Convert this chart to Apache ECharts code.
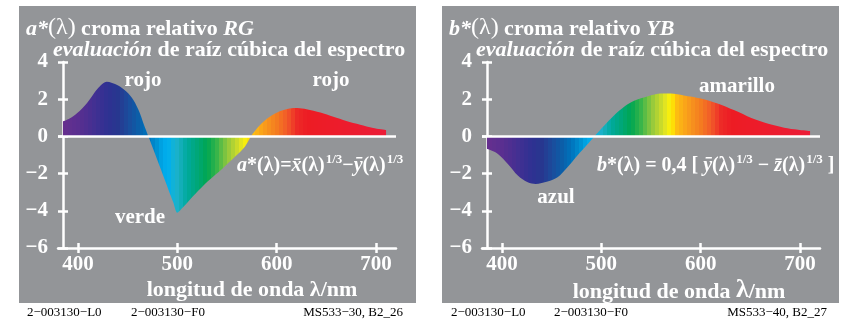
<!DOCTYPE html>
<html><head><meta charset="utf-8">
<script src="https://cdn.jsdelivr.net/npm/echarts@6/dist/echarts.min.js"></script>
<style>html,body{margin:0;padding:0;background:#fff}#c{width:843px;height:322px}</style>
</head><body><div id="c"></div>
<script>
// ---- data ----
const wavelengthA = [385,393,402,410,420,429,440,449,456,462,466,471,477,484,491,496,500,506,518,531,545,558,568,574,583,593,603,613,621,630,644,657,670,684,697,710];
const aStar       = [0.8,1.0,1.38,1.85,2.58,2.94,2.75,2.4,1.95,1.3,0.7,0.0,-0.85,-1.85,-2.85,-3.55,-4.1,-3.8,-3.1,-2.4,-1.75,-1.1,-0.55,0.0,0.6,1.05,1.35,1.5,1.53,1.46,1.28,1.05,0.83,0.63,0.45,0.34];
const wavelengthB = [385,396,406,416,426,434,446,456,466,476,485,493,503,513,523,533,547,560,570,583,600,617,634,651,668,684,698,710];
const bStar       = [-0.67,-0.94,-1.48,-2.1,-2.47,-2.56,-2.43,-2.2,-1.66,-1.03,-0.49,0.0,0.59,1.14,1.59,1.91,2.16,2.3,2.3,2.2,2.04,1.77,1.4,0.99,0.68,0.47,0.36,0.29];
const xTicks = [400,500,600,700];
const yMin = -6, yMax = 4, yStep = 2;
const xMin = 380, xMax = 720;

// ---- spectral colour table (style) ----
const spectrum = [
  [380,'#6b2d8e'],[390,'#62308f'],[400,'#5a2f90'],[410,'#4c2f91'],[420,'#3d3092'],[430,'#2e3192'],
  [440,'#27378f'],[450,'#1c4b9c'],[460,'#0c5ea8'],[470,'#0072bb'],[480,'#0092d2'],[486,'#00a9e8'],
  [491,'#00aeef'],[496,'#10b2d8'],[501,'#1db1c6'],[510,'#00a99d'],[520,'#00a779'],[530,'#00a651'],
  [540,'#39b54a'],[550,'#8dc63f'],[560,'#c9da2b'],[566,'#ede91d'],[570,'#fff200'],[575,'#fdc010'],
  [581,'#fbae17'],[590,'#f7941d'],[600,'#f47b20'],[610,'#f15a29'],[620,'#ed2b27'],[630,'#ed1c24'],
  [700,'#ec1c35'],[720,'#ec1c3a']
];
function hex2rgb(h){return [parseInt(h.substr(1,2),16),parseInt(h.substr(3,2),16),parseInt(h.substr(5,2),16)];}
function spectrumColor(l){
  if(l<=spectrum[0][0]) return spectrum[0][1];
  for(let i=1;i<spectrum.length;i++){
    if(l<=spectrum[i][0]){
      const [l0,c0]=spectrum[i-1],[l1,c1]=spectrum[i];
      const t=(l-l0)/(l1-l0), a=hex2rgb(c0), b=hex2rgb(c1);
      return 'rgb('+a.map((v,k)=>Math.round(v+(b[k]-v)*t)).join(',')+')';
    }
  }
  return spectrum[spectrum.length-1][1];
}
function areaGradient(lams){
  const l0=lams[0], l1=lams[lams.length-1], span=l1-l0, stops=[];
  for(let c=380;c<=720;c+=4){
    const a=Math.max(c-2,l0), b=Math.min(c+2,l1);
    if(b<=a) continue;
    const col=spectrumColor(c);
    stops.push({offset:(a-l0)/span,color:col},{offset:(b-l0)/span,color:col});
  }
  return {type:'linear',x:0,y:0,x2:1,y2:0,colorStops:stops};
}

const SERIF = '"Liberation Serif","Times New Roman",serif';
const W = '#ffffff';
const axisLine = {color:W,width:2.5};

function xAxes(g){
  const base = {gridIndex:g,type:'value',min:xMin,max:xMax,position:'bottom',splitLine:{show:false}};
  return [
    Object.assign({},base,{
      axisLine:{show:true,onZero:false,lineStyle:axisLine},
      axisTick:{show:true,length:5,customValues:xTicks,lineStyle:axisLine},
      axisLabel:{customValues:xTicks,color:W,fontFamily:SERIF,fontWeight:'bold',fontSize:21,margin:6}
    }),
    Object.assign({},base,{
      axisLine:{show:false,onZero:false},
      axisTick:{show:true,inside:true,length:5,customValues:xTicks,lineStyle:axisLine},
      axisLabel:{show:false}
    })
  ];
}
function yAxes(g){
  const base = {gridIndex:g,type:'value',min:yMin,max:yMax,interval:yStep,position:'left',offset:-5,splitLine:{show:false}};
  return [
    Object.assign({},base,{
      axisLine:{show:true,onZero:false,lineStyle:axisLine},
      axisTick:{show:true,length:5,lineStyle:axisLine},
      axisLabel:{color:W,fontFamily:SERIF,fontWeight:'bold',fontSize:21,margin:15,
        formatter:v=>String(v).replace('-','\u2212')}
    }),
    Object.assign({},base,{
      axisLine:{show:false,onZero:false},
      axisTick:{show:true,inside:true,length:5,lineStyle:axisLine},
      axisLabel:{show:false}
    })
  ];
}
function curve(g,lams,vals){
  return {
    type:'line',xAxisIndex:g*2,yAxisIndex:g*2,
    data:lams.map((l,i)=>[l,vals[i]]),
    symbol:'none',smooth:0.3,
    lineStyle:{width:0},
    areaStyle:{color:areaGradient(lams),opacity:1},
    silent:true,
    markLine:{silent:true,symbol:'none',label:{show:false},
      lineStyle:{color:W,width:2.5,type:'solid'},data:[{yAxis:0}]}
  };
}

function txt(x,y,text,size,opts){
  return {type:'text',x:x,y:y,z:10,silent:true,
    style:Object.assign({text:text,font:'bold '+size+'px '+SERIF,fill:W},opts||{})};
}
function richTxt(x,y,text,rich,opts){
  return {type:'text',x:x,y:y,z:10,silent:true,
    style:Object.assign({text:text,rich:rich,fill:W},opts||{})};
}
const titleRich = {
  b:{fontFamily:SERIF,fontWeight:'bold',fontSize:22,fill:W,verticalAlign:'bottom',lineHeight:24},
  i:{fontFamily:SERIF,fontWeight:'bold',fontStyle:'italic',fontSize:22,fill:W,verticalAlign:'bottom',lineHeight:24},
  l:{fontFamily:SERIF,fontSize:24,fill:W,verticalAlign:'bottom',lineHeight:25}
};
const fRich = {
  b:{fontFamily:SERIF,fontWeight:'bold',fontSize:20,fill:W,verticalAlign:'bottom',lineHeight:28},
  i:{fontFamily:SERIF,fontWeight:'bold',fontStyle:'italic',fontSize:20,fill:W,verticalAlign:'bottom',lineHeight:28},
  s:{fontFamily:SERIF,fontWeight:'bold',fontSize:13,fill:W,verticalAlign:'top',lineHeight:14,padding:[5,0,0,1]}
};
const nameRich = {
  n:{fontFamily:SERIF,fontWeight:'bold',fontSize:22,fill:W,verticalAlign:'bottom',lineHeight:26},
  l:{fontFamily:SERIF,fontWeight:'bold',fontSize:26,fill:W,verticalAlign:'bottom',lineHeight:28}
};
const foot = {font:'13px '+SERIF,fill:'#000'};

const graphics = [
  {type:'rect',shape:{x:19,y:6,width:397,height:297},style:{fill:'#939598'},z:-10,silent:true},
  {type:'rect',shape:{x:442,y:6,width:397,height:297},style:{fill:'#939598'},z:-10,silent:true},
  // titles
  richTxt(26,15,'{i|a*}{l|(λ)}{b| croma relativo }{i|RG}',titleRich),
  richTxt(53,37,'{i|evaluación}{b| de raíz cúbica del espectro}',titleRich),
  richTxt(449,15,'{i|b*}{l|(λ)}{b| croma relativo }{i|YB}',titleRich),
  richTxt(476,37,'{i|evaluación}{b| de raíz cúbica del espectro}',titleRich),
  // axis names
  txt(252,290,'longitud de onda λ/nm',22,{align:'center',verticalAlign:'middle'}),
  richTxt(679,289,'{n|longitud de onda }{l|λ}{n|/nm}',nameRich,{align:'center',verticalAlign:'middle'}),
  // annotations
  txt(143,81,'rojo',21,{align:'center',verticalAlign:'middle'}),
  txt(331,81,'rojo',21,{align:'center',verticalAlign:'middle'}),
  txt(140,218,'verde',21,{align:'center',verticalAlign:'middle'}),
  txt(737,87,'amarillo',21,{align:'center',verticalAlign:'middle'}),
  txt(556,198,'azul',21,{align:'center',verticalAlign:'middle'}),
  // formulas
  richTxt(237,148,'{i|a}{b|*(λ)=}{i|x\u0304}{b|(λ)}{s|1/3}{b|\u2212}{i|y\u0304}{b|(λ)}{s|1/3}',fRich),
  richTxt(597,148,'{i|b}{b|*(λ) = 0,4 [ }{i|y\u0304}{b|(λ)}{s|1/3}{b| \u2212 }{i|z\u0304}{b|(λ)}{s|1/3}{b| ]}',fRich),
  // footers
  txt(27,313,'2\u2212003130\u2212L0',13,Object.assign({verticalAlign:'middle'},foot)),
  txt(131,313,'2\u2212003130\u2212F0',13,Object.assign({verticalAlign:'middle'},foot)),
  txt(403,313,'MS533\u221230, B2_26',13,Object.assign({verticalAlign:'middle',align:'right'},foot)),
  txt(451,313,'2\u2212003130\u2212L0',13,Object.assign({verticalAlign:'middle'},foot)),
  txt(554,313,'2\u2212003130\u2212F0',13,Object.assign({verticalAlign:'middle'},foot)),
  txt(827,313,'MS533\u221240, B2_27',13,Object.assign({verticalAlign:'middle',align:'right'},foot))
];

const chart = echarts.init(document.getElementById('c'),null,{renderer:'canvas'});
chart.setOption({
  animation:false,
  backgroundColor:'#ffffff',
  grid:[
    {left:58,top:62,width:338,height:186},
    {left:482,top:62,width:338,height:186}
  ],
  xAxis:[].concat(xAxes(0),xAxes(1)),
  yAxis:[].concat(yAxes(0),yAxes(1)),
  series:[curve(0,wavelengthA,aStar),curve(1,wavelengthB,bStar)],
  graphic:graphics
});
</script>
</body></html>
